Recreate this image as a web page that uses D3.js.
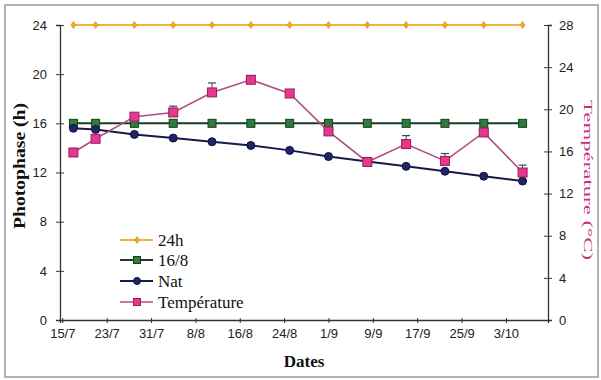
<!DOCTYPE html>
<html><head><meta charset="utf-8">
<script src="https://cdn.jsdelivr.net/npm/d3@7"></script>
<style>
html,body{margin:0;padding:0;background:#fff;}
svg{display:block;}
</style></head>
<body>
<svg id="chart" width="601" height="380"></svg>
<script>
// ---- data ----
const dates = ["17/7","21/7","28/7","4/8","11/8","18/8","25/8","1/9","8/9","15/9","22/9","29/9","6/10"];
const h24 = [24,24,24,24,24,24,24,24,24,24,24,24,24];
const h16 = [16,16,16,16,16,16,16,16,16,16,16,16,16];
const nat = [15.6,15.5,15.1,14.8,14.5,14.2,13.8,13.3,12.9,12.5,12.1,11.7,11.3];
const temp = [15.9,17.2,19.3,19.7,21.6,22.8,21.5,17.9,15.0,16.7,15.1,17.8,14.0];
const tempErr = [0.2,0.2,0.2,0.6,0.9,0.4,0.2,0.2,0.4,0.8,0.7,0.2,0.7];
const xTickLabels = ["15/7","23/7","31/7","8/8","16/8","24/8","1/9","9/9","17/9","25/9","3/10"];
const leftTicks = [0,4,8,12,16,20,24];
const rightTicks = [0,4,8,12,16,20,24,28];
const legendNames = ["24h","16/8","Nat","Température"];

const parse = s => d3.timeParse("%d/%m/%Y")(s + "/2000");
const svg = d3.select("#chart");

// frame
svg.append("rect").attr("x",5).attr("y",5).attr("width",593).attr("height",372)
  .attr("fill","none").attr("stroke","#9a9a9a").attr("stroke-width",1.5);

const L = 60, R = 548, T = 25, B = 320;
const x = d3.scaleTime()
  .domain([d3.timeHour.offset(parse("15/7"), -10), d3.timeHour.offset(parse("10/10"), 14)])
  .range([L, R]);
const yL = d3.scaleLinear().domain([0,24]).range([B,T]);
const yR = d3.scaleLinear().domain([0,28]).range([B,T]);

const tickFont = "'Liberation Sans', Arial, sans-serif";
const serif = "'Liberation Serif', 'Times New Roman', serif";
function styleAxis(g){
  g.select(".domain").attr("stroke","#333").attr("stroke-width",1.3);
  g.selectAll(".tick line").attr("stroke","#333").attr("stroke-width",1);
  g.selectAll(".tick text").attr("font-family",tickFont).attr("font-size",13).attr("fill","#222");
}

// axes
const gx = svg.append("g").attr("transform",`translate(0,${B})`)
  .call(d3.axisBottom(x).tickValues(xTickLabels.map(parse)).tickFormat((d,i)=>xTickLabels[i])
    .tickSizeOuter(0).tickSize(3).tickPadding(6));
styleAxis(gx);
gx.selectAll(".tick line").attr("y1",-2);

const gl = svg.append("g").attr("transform",`translate(${L},0)`)
  .call(d3.axisLeft(yL).tickValues(leftTicks).tickSizeOuter(0).tickSize(4).tickPadding(9));
styleAxis(gl);
gl.selectAll(".tick line").attr("x1",4);

const gr = svg.append("g").attr("transform",`translate(${R},0)`)
  .call(d3.axisRight(yR).tickValues(rightTicks).tickSizeOuter(0).tickSize(4).tickPadding(7));
styleAxis(gr);
gr.selectAll(".tick line").attr("x1",-4);

// titles
svg.append("text").attr("transform","translate(25,166) rotate(-90)")
  .attr("text-anchor","middle").attr("font-family",serif)
  .attr("font-weight","bold").attr("font-size",17).attr("fill","#111")
  .attr("textLength",126).attr("lengthAdjust","spacingAndGlyphs").text("Photophase (h)");
svg.append("text").attr("x",304).attr("y",367)
  .attr("text-anchor","middle").attr("font-family",serif)
  .attr("font-weight","bold").attr("font-size",17).attr("fill","#111").text("Dates");
svg.append("text").attr("transform","translate(584,180) rotate(90)")
  .attr("text-anchor","middle").attr("font-family",serif)
  .attr("font-size",13).attr("fill","#c2307c")
  .attr("textLength",160).attr("lengthAdjust","spacingAndGlyphs").text("Température (°C)");

// series
const pts = dates.map(parse);
const styles = [
  {vals:h24, y:yL, line:"#f2b33d", lw:2, shape:"diamond", fill:"#eeaa2e", stroke:"#e09a20", size:5},
  {vals:h16, y:yL, line:"#143d22", lw:2, shape:"square", fill:"#2f7a3c", stroke:"#163f20", size:8},
  {vals:nat, y:yL, line:"#161a4c", lw:2, shape:"circle", fill:"#1f2563", stroke:"#0e1240", size:8},
  {vals:temp, y:yR, line:"#b24e7e", lw:1.6, shape:"square", fill:"#e8378e", stroke:"#93205a", size:9}
];

function drawMarker(g, s, cx, cy){
  const h = s.size/2;
  if(s.shape==="circle"){
    g.append("circle").attr("cx",cx).attr("cy",cy).attr("r",h).attr("fill",s.fill).attr("stroke",s.stroke).attr("stroke-width",1);
  } else if(s.shape==="square"){
    g.append("rect").attr("x",cx-h).attr("y",cy-h).attr("width",s.size).attr("height",s.size)
      .attr("fill",s.fill).attr("stroke",s.stroke).attr("stroke-width",1);
  } else {
    g.append("path").attr("d",`M${cx},${cy-h-1}L${cx+h},${cy}L${cx},${cy+h+1}L${cx-h},${cy}Z`)
      .attr("fill",s.fill).attr("stroke",s.stroke).attr("stroke-width",0.8);
  }
}

styles.forEach((s,si)=>{
  const g = svg.append("g");
  const line = d3.line().x((d,i)=>x(pts[i])).y(d=>s.y(d));
  g.append("path").datum(s.vals).attr("d",line).attr("fill","none")
    .attr("stroke",s.line).attr("stroke-width",s.lw);
  if(si===3){
    temp.forEach((v,i)=>{
      const cx = x(pts[i]), y0 = yR(v), y1 = yR(v+tempErr[i]);
      g.append("line").attr("x1",cx).attr("x2",cx).attr("y1",y0).attr("y2",y1).attr("stroke","#444").attr("stroke-width",1);
      g.append("line").attr("x1",cx-4).attr("x2",cx+4).attr("y1",y1).attr("y2",y1).attr("stroke","#444").attr("stroke-width",1.2);
    });
  }
  s.vals.forEach((v,i)=>drawMarker(g, s, x(pts[i]), s.y(v)));
});

// legend
const legY = [240,260,281,302];
styles.forEach((s,i)=>{
  const g = svg.append("g");
  g.append("line").attr("x1",120).attr("x2",153).attr("y1",legY[i]).attr("y2",legY[i])
    .attr("stroke",s.line).attr("stroke-width",s.lw);
  drawMarker(g, {...s, size: s.shape==="diamond"?5:7}, 137, legY[i]);
  g.append("text").attr("x",158).attr("y",legY[i]+6)
    .attr("font-family",serif).attr("font-size",17)
    .attr("fill","#111").text(legendNames[i]);
});
</script>
</body></html>
